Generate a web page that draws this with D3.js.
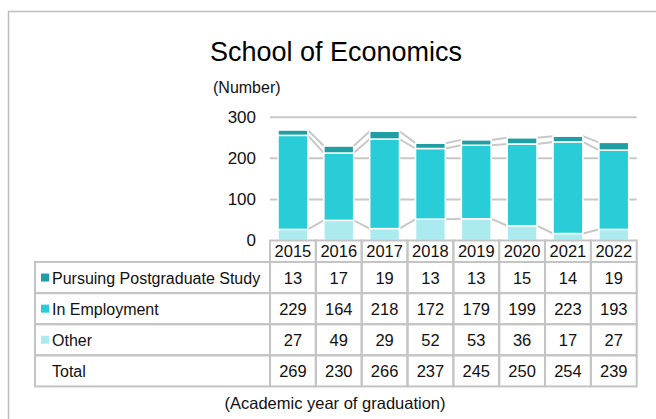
<!DOCTYPE html>
<html>
<head>
<meta charset="utf-8">
<script src="https://cdn.jsdelivr.net/npm/d3@7"></script>
<style>
    body { margin: 0; background: #fff; }
    svg { display: block; font-family: Arial, "Liberation Sans", sans-serif; }
</style>
</head>
<body>
<svg id="chart1" width="656" height="419"></svg>
<script>
// values
const years = ['2015', '2016', '2017', '2018', '2019', '2020', '2021', '2022']
const postgrad = [13, 17, 19, 13, 13, 15, 14, 19]
const employment = [229, 164, 218, 172, 179, 199, 223, 193]
const other = [27, 49, 29, 52, 53, 36, 17, 27]
const totals = [269, 230, 266, 237, 245, 250, 254, 239]
const yTicks = [0, 100, 200, 300]

const seriesNames = ['Pursuing Postgraduate Study', 'In Employment', 'Other']
const colors = { postgrad: '#1f9fa4', employment: '#29cdd7', other: '#abebef' }

const svg = d3.select('#chart1')
const gridColor = '#c8c8c8',
      lineColor = '#c4c4c4',
      textColor = '#111'

// outer frame (cut off at right and bottom)
svg.append('path')
    .attr('d', 'M8.5,419 V11.5 H656')
    .attr('fill', 'none')
    .attr('stroke', '#bdbdbd')
    .attr('stroke-width', 1.5)

svg.append('text')
    .attr('x', 336)
    .attr('y', 61)
    .attr('text-anchor', 'middle')
    .style('font-size', '27px')
    .style('fill', '#000')
    .text('School of Economics')

svg.append('text')
    .attr('x', 213)
    .attr('y', 93)
    .style('font-size', '16px')
    .style('fill', textColor)
    .text('(Number)')

// scales
const xScale = d3.scaleBand().domain(years).range([270, 636.7]).padding(0)
const yScale = d3.scaleLinear().domain([0, 300]).range([240.5, 117.3])
const barW = xScale.bandwidth() * 0.65

// grid lines
svg.append('g')
    .selectAll('line')
    .data(yTicks.filter(d => d > 0))
    .enter()
    .append('line')
        .attr('x1', 270)
        .attr('x2', 636.7)
        .attr('y1', d => yScale(d))
        .attr('y2', d => yScale(d))
        .attr('stroke', gridColor)
        .attr('stroke-width', 2)

// y axis labels, no domain line
const yAxis = svg.append('g')
    .attr('transform', 'translate(256,0)')
    .call(d3.axisLeft(yScale).tickValues(yTicks).tickSize(0).tickPadding(0))
yAxis.select('.domain').remove()
yAxis.selectAll('text')
    .style('font-size', '17px')
    .style('font-family', 'Arial, "Liberation Sans", sans-serif')
    .style('fill', textColor)
    .attr('dy', '0.3em')

// stacked data
const table = years.map((y, i) => ({ year: y, other: other[i], employment: employment[i], postgrad: postgrad[i] }))
const keys = ['other', 'employment', 'postgrad']
const stacked = d3.stack().keys(keys)(table)

// connector lines between neighbouring bars
stacked.forEach(layer => {
    for(let j = 1; j < layer.length; j++)
    {
        svg.append('line')
            .attr('x1', xScale(years[j-1]) + (xScale.bandwidth() + barW) / 2)
            .attr('x2', xScale(years[j]) + (xScale.bandwidth() - barW) / 2)
            .attr('y1', yScale(layer[j-1][1]))
            .attr('y2', yScale(layer[j][1]))
            .attr('stroke', gridColor)
            .attr('stroke-width', 2)
    }
})

// bars
svg.append('g')
    .selectAll('g')
    .data(stacked)
    .enter()
    .append('g')
        .style('fill', d => colors[d.key])
    .selectAll('rect')
    .data(d => d)
    .enter()
    .append('rect')
        .attr('x', d => xScale(d.data.year) + (xScale.bandwidth() - barW) / 2)
        .attr('y', d => yScale(d[1]))
        .attr('width', barW)
        .attr('height', d => yScale(d[0]) - yScale(d[1]))
        .attr('stroke', '#fff')
        .attr('stroke-width', 1.5)

// data table
const headTop = 240.5, headH = 21.5, rowTop = 262, rowH = 31.1, tableLeft = 35
const rows = [
    { label: seriesNames[0], values: postgrad, color: colors.postgrad },
    { label: seriesNames[1], values: employment, color: colors.employment },
    { label: seriesNames[2], values: other, color: colors.other },
    { label: 'Total', values: totals, color: null }
]

const grid = svg.append('g')
    .attr('fill', 'none')
    .attr('stroke', lineColor)
    .attr('stroke-width', 2)

// header row, only above the year columns
grid.selectAll('.head')
    .data(years)
    .enter()
    .append('rect')
        .attr('x', d => xScale(d))
        .attr('y', headTop)
        .attr('width', xScale.bandwidth())
        .attr('height', headH)

rows.forEach((r, i) => {
    grid.append('rect')
        .attr('x', tableLeft)
        .attr('y', rowTop + i * rowH)
        .attr('width', 270 - tableLeft)
        .attr('height', rowH)
    grid.selectAll(`.cell${i}`)
        .data(years)
        .enter()
        .append('rect')
            .attr('x', d => xScale(d))
            .attr('y', rowTop + i * rowH)
            .attr('width', xScale.bandwidth())
            .attr('height', rowH)
})

svg.append('g')
    .selectAll('text')
    .data(years)
    .enter()
    .append('text')
        .attr('x', d => xScale(d) + xScale.bandwidth() / 2)
        .attr('y', headTop + headH / 2 + 6)
        .attr('text-anchor', 'middle')
        .style('font-size', '16.5px')
        .style('fill', textColor)
        .text(d => d)

rows.forEach((r, i) => {
    let cy = rowTop + i * rowH + rowH / 2
    if(r.color)
    {
        svg.append('rect')
            .attr('x', 41)
            .attr('y', cy - 4)
            .attr('width', 8)
            .attr('height', 8)
            .style('fill', r.color)
    }
    svg.append('text')
        .attr('x', 52)
        .attr('y', cy + 6)
        .style('font-size', '16px')
        .style('fill', textColor)
        .text(r.label)

    svg.append('g')
        .selectAll('text')
        .data(r.values)
        .enter()
        .append('text')
            .attr('x', (d, j) => xScale(years[j]) + xScale.bandwidth() / 2)
            .attr('y', cy + 6)
            .attr('text-anchor', 'middle')
            .style('font-size', '16.5px')
            .style('fill', textColor)
            .text(d => d)
})

svg.append('text')
    .attr('x', 335)
    .attr('y', 409)
    .attr('text-anchor', 'middle')
    .style('font-size', '16.5px')
    .style('fill', textColor)
    .text('(Academic year of graduation)')
</script>
</body>
</html>
